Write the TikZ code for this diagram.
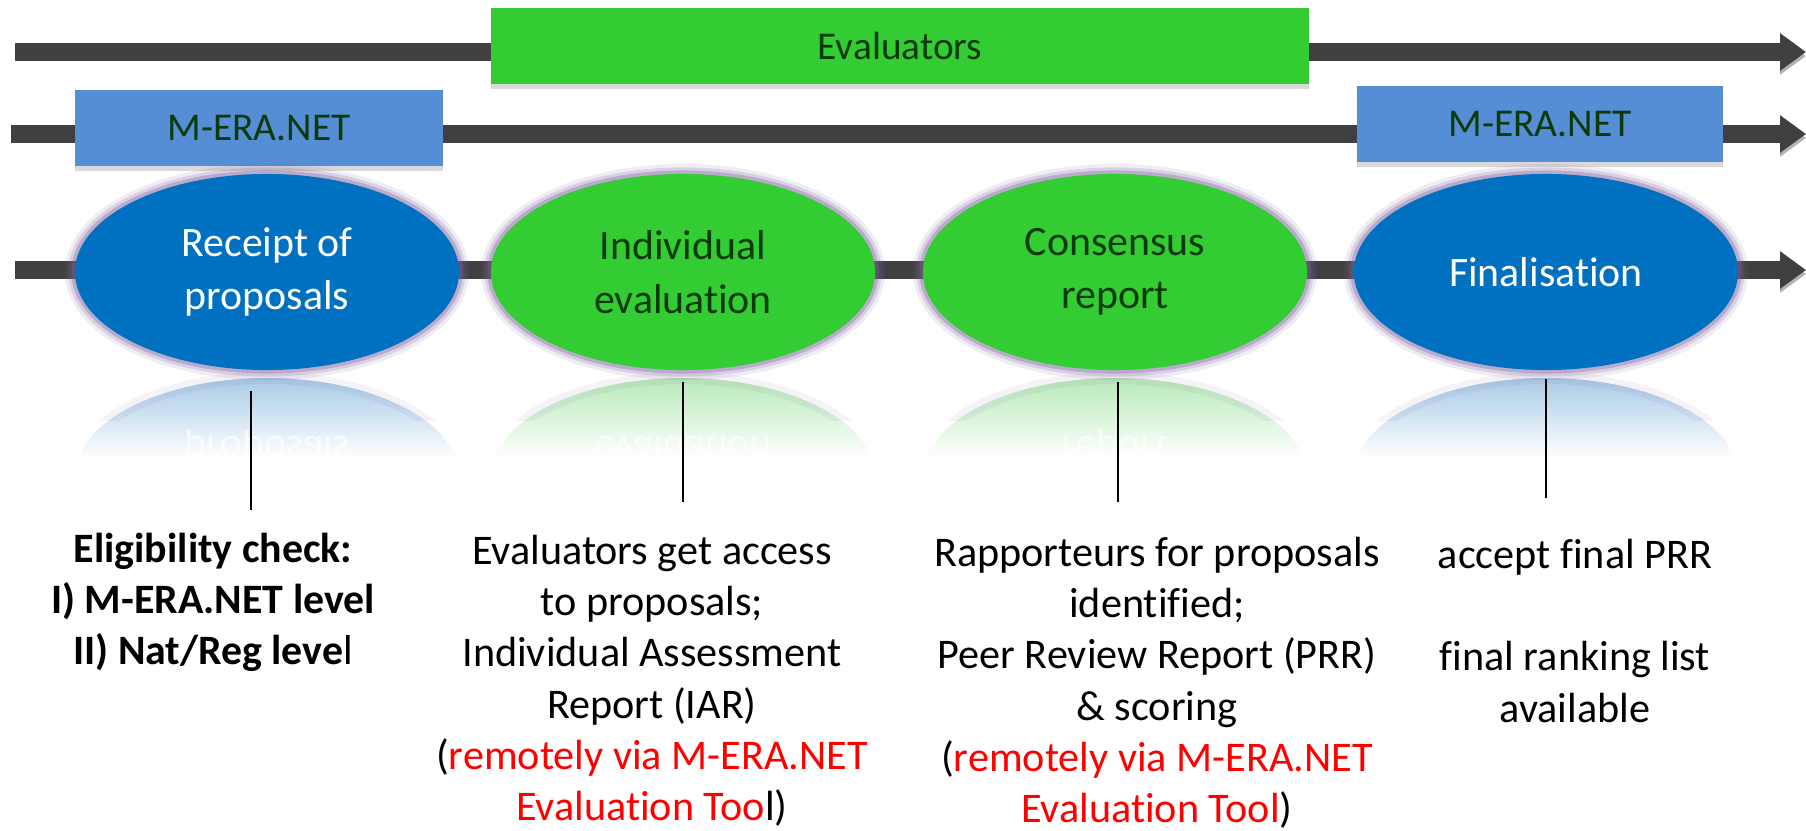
\documentclass[tikz,border=0pt]{standalone}
\usepackage{fontspec}
\setmainfont{Carlito}[Ligatures=NoCommon]
\usetikzlibrary{arrows.meta,shapes.geometric,shadows}
\definecolor{BarGray}{HTML}{404040}
\definecolor{EvalGreen}{HTML}{33CC33}
\definecolor{BoxBlue}{HTML}{558ED5}
\definecolor{StepBlue}{HTML}{0070C0}
\definecolor{LabelGreen}{HTML}{0A3A0A}
\definecolor{Glow}{HTML}{8064A2}
\definecolor{RefBlue}{HTML}{A8CAE6}
\definecolor{RefGreen}{HTML}{B8EAB8}
\begin{document}
\begin{tikzpicture}[x=0.01cm,y=-0.01cm,
    bar/.style={line width=0.18cm, BarGray, -{Triangle[length=0.26cm,width=0.36cm]},
        preaction={draw=black!30, transform canvas={yshift=-0.04cm}}},
    band/.style={rectangle, inner sep=0pt, minimum height=0.76cm, text=LabelGreen,
        font=\fontsize{11.2}{13}\selectfont,
        drop shadow={shadow xshift=0pt, shadow yshift=-0.05cm, opacity=.3}},
    stepnode/.style={ellipse, inner sep=0pt, minimum width=3.84cm, minimum height=1.96cm,
        align=center, font=\fontsize{11.9}{15.2}\selectfont,
        preaction={draw=Glow, line width=0.2cm, opacity=.12},
        preaction={draw=Glow, line width=0.13cm, opacity=.2},
        preaction={draw=Glow, line width=0.07cm, opacity=.35}},
    note/.style={align=center, inner sep=0pt, anchor=north, font=\fontsize{12}{14.6}\selectfont},
    mirror/.style={yscale=-1, anchor=base, text=white, opacity=.7, font=\fontsize{11.9}{14.8}\selectfont}]
    \useasboundingbox (0,0) rectangle (1806,830);
    \draw[bar] (15,52) -- (1806,52);
    \draw[bar] (11,134) -- (1806,134);
    \draw[bar] (15,270) -- (1806,270);
    \node[band, fill=EvalGreen, minimum width=8.18cm] (eval) at (900,46) {Evaluators};
    \node[band, fill=BoxBlue, minimum width=3.68cm] (mera1) at (259,128) {M-ERA.NET};
    \node[band, fill=BoxBlue, minimum width=3.66cm] (mera2) at (1540,124) {M-ERA.NET};
    \foreach \cx/\rc in {267/RefBlue,683/RefGreen,1115/RefGreen,1546/RefBlue}{
        \begin{scope}
            \clip (\cx,476) ellipse [x radius=192, y radius=98];
            \shade[top color=\rc, bottom color=white] (\cx-200,378) rectangle (\cx+200,458);
        \end{scope}
        \begin{scope}
            \clip (\cx-210,366) rectangle (\cx+210,420);
            \draw[Glow, opacity=.08, line width=0.12cm] (\cx,476) ellipse [x radius=192, y radius=98];
        \end{scope}
    }
    \node[mirror] (r1) at (267,436) {proposals};
    \node[mirror] (r2) at (683,436) {evaluation};
    \node[mirror] (r3) at (1115,436) {report};
    \node[stepnode, fill=StepBlue, text=white] (receipt) at (267,272) {Receipt of\\proposals};
    \node[stepnode, fill=EvalGreen, text=LabelGreen] (indiv) at (683,272) {Individual\\evaluation};
    \node[stepnode, fill=EvalGreen, text=LabelGreen] (cons) at (1115,272) {Consensus\\report};
    \node[stepnode, fill=StepBlue, text=white] (final) at (1546,272) {Finalisation};
    \coordinate (l1a) at (251,391); \coordinate (l1b) at (251,510);
    \coordinate (l2a) at (683,382); \coordinate (l2b) at (683,502);
    \coordinate (l3a) at (1118,382); \coordinate (l3b) at (1118,502);
    \coordinate (l4a) at (1546,379); \coordinate (l4b) at (1546,498);
    \draw[line width=0.02cm] (l1a) -- (l1b) (l2a) -- (l2b) (l3a) -- (l3b) (l4a) -- (l4b);
    \node[note, font=\fontsize{11.9}{14.6}\selectfont\bfseries] (elig) at (213,532)
        {Eligibility check:\\I) M-ERA.NET level\\II) Nat/Reg leve{\mdseries l}};
    \node[note] (access) at (652,534) {Evaluators get access\\to proposals;\\Individual Assessment\\
        Report (IAR)\\(\textcolor{red}{remotely via M-ERA.NET}\\\textcolor{red}{Evaluation Too}l)};
    \node[note] (rappo) at (1157,536) {Rapporteurs for proposals\\identified;\\Peer Review Report (PRR)\\
        \& scoring\\(\textcolor{red}{remotely via M-ERA.NET}\\\textcolor{red}{Evaluation Tool})};
    \node[note] (accept) at (1575,538) {accept final PRR\\[14.6pt]final ranking list\\available};
\end{tikzpicture}
\end{document}
